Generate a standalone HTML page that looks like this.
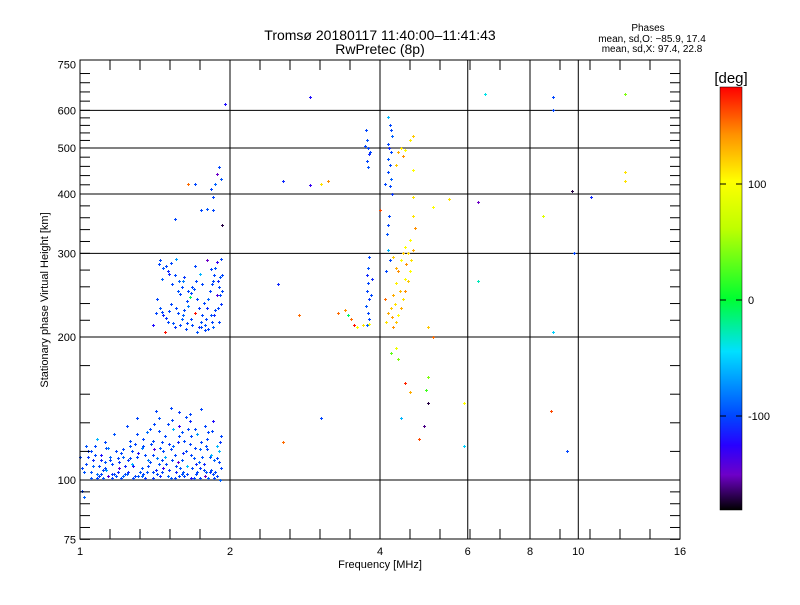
<!DOCTYPE html>
<html><head><meta charset="utf-8"><style>
body{margin:0;background:#fff}
svg text{font-family:"Liberation Sans",sans-serif;fill:#000}
</style></head><body>
<svg id="c" width="800" height="600" viewBox="0 0 800 600">
<rect width="800" height="600" fill="#fff"/>
<defs><linearGradient id="cb" x1="0" y1="1" x2="0" y2="0">
<stop offset="0" stop-color="#000"/><stop offset="0.083" stop-color="#6e00c8"/><stop offset="0.153" stop-color="#2800ff"/><stop offset="0.222" stop-color="#0046ff"/><stop offset="0.375" stop-color="#00e0ff"/><stop offset="0.5" stop-color="#00ff30"/><stop offset="0.667" stop-color="#c0ff00"/><stop offset="0.778" stop-color="#ffff00"/><stop offset="0.889" stop-color="#ff9000"/><stop offset="1" stop-color="#ff0000"/>
</linearGradient></defs>
<text x="380" y="40" font-size="14" text-anchor="middle">Tromsø 20180117 11:40:00–11:41:43</text>
<text x="380" y="54" font-size="14" text-anchor="middle">RwPretec (8p)</text>
<g font-size="10" text-anchor="middle">
<text x="648" y="31">Phases</text>
<text x="652" y="42">mean, sd,O: −85.9, 17.4</text>
<text x="652" y="52">mean, sd,X:  97.4, 22.8</text>
</g>
<g id="grid"></g>
<g id="pts"></g>
<rect x="80" y="60" width="600" height="479" fill="none" stroke="#000" stroke-width="1"/>
<g id="ticks"></g>
<text x="380" y="568" font-size="11" text-anchor="middle">Frequency [MHz]</text>
<text transform="translate(48,300) rotate(-90)" font-size="11" text-anchor="middle">Stationary phase Virtual Height [km]</text>
<rect x="720" y="87" width="22" height="423" fill="url(#cb)" stroke="#000" stroke-width="0.5"/>
<text x="731" y="83" font-size="15" text-anchor="middle">[deg]</text>
<g id="cbt"></g>
</svg>
<script>
const xTicks=[1,2,4,6,8,10,16];
const yTicks=[75,100,200,300,400,500,600,750];
const cbTicks=[100,0,-100];
const freqs=[1.01,1.02,1.03,1.04,1.05,1.06,1.07,1.08,1.09,1.1,1.11,1.12,1.13,1.15,1.16,1.17,1.18,1.2,1.21,1.22,1.24,1.25,1.26,1.27,1.29,1.3,1.31,1.33,1.34,1.35,1.37,1.38,1.4,1.41,1.42,1.44,1.45,1.46,1.48,1.5,1.51,1.52,1.54,1.55,1.57,1.58,1.6,1.61,1.63,1.64,1.66,1.67,1.69,1.7,1.72,1.74,1.75,1.77,1.78,1.8,1.82,1.83,1.85,1.86,1.88,1.9,1.91,1.92,1.05,1.12,1.19,1.26,1.33,1.4,1.47,1.53,1.6,1.67,1.74,1.81,1.88,1.14,1.23,1.36,1.43,1.56,1.62,1.71,1.79,1.85,1.08,1.44,1.58,1.66,1.3,
1.45,1.47,1.5,1.52,1.55,1.58,1.6,1.62,1.56,1.65,1.43,1.45,1.47,1.5,1.52,1.55,1.57,1.6,1.63,1.65,1.68,1.7,1.72,1.75,1.78,1.8,1.82,1.85,1.87,1.88,1.9,1.92,1.9,1.85,1.76,1.74,1.7,1.8,1.92,1.93,1.4,1.42,1.66,1.68,1.83,1.77,1.48,1.62,1.73,1.87,
1.75,1.8,1.85,1.83,1.87,1.88,1.9,1.92,1.85,1.7,1.55,1.65,1.93,1.95,2.55,2.9,2.9,3.05,3.15,2.5,2.75,
3.75,3.77,3.78,3.8,3.76,3.79,3.74,3.82,3.8,3.78,3.76,3.79,3.77,3.81,3.75,3.78,3.8,3.77,3.83,3.85,3.6,3.55,3.5,3.7,3.8,3.4,3.45,3.3,
4.15,4.18,4.2,4.22,4.15,4.17,4.2,4.16,4.19,4.15,4.2,4.18,4.22,4.1,4.16,4.13,4.15,4.18,4.12,4.17,
4.25,4.3,4.35,4.4,4.45,4.5,4.55,4.6,4.62,4.65,4.6,4.7,4.65,4.2,4.25,4.3,4.35,4.4,4.45,4.22,4.28,4.38,4.48,4.52,4.55,4.3,4.25,4.5,4.1,4.15,4.12,
4.4,4.45,4.5,4.6,4.65,4.35,4.0,4.65,4.3,4.65,
4.2,4.3,4.35,4.5,4.6,4.95,5.0,5.0,5.1,5.0,4.9,4.8,4.4,3.05,2.55,
6.5,8.9,8.9,9.7,10.6,12.4,12.4,12.4,6.3,8.5,9.8,8.9,6.3,8.8,9.5,5.9,5.9,5.5,5.1];
const heights=[95,92,108,112,104,110,118,103,107,113,101,120,105,110,103,125,115,106,101,112,130,104,118,108,102,135,114,106,122,101,110,128,104,116,140,108,102,120,112,131,105,142,118,101,109,124,103,114,136,107,119,101,111,128,104,116,141,108,102,122,112,105,133,101,118,109,100,124,115,109,104,111,117,121,106,110,126,113,106,101,111,102,103,104,103,104,102,103,104,103,122,127,130,138,125,
290,280,275,286,270,262,255,268,292,250,240,230,222,215,235,210,225,218,208,232,212,225,240,215,207,230,250,262,280,245,255,235,215,210,258,272,282,290,292,270,212,225,243,255,222,236,205,228,210,228,
370,372,370,410,420,440,455,430,395,420,355,420,345,620,425,640,418,420,425,258,222,
545,520,500,485,470,455,505,490,295,280,270,260,250,240,232,225,218,212,245,265,210,212,218,212,213,228,222,225,
580,560,545,530,510,500,490,475,460,445,430,415,400,420,345,330,305,290,275,360,
210,215,222,230,240,250,262,275,290,305,320,340,360,230,245,260,275,290,300,220,235,250,265,285,300,280,295,310,240,225,215,
500,480,495,520,530,490,370,395,460,450,
185,190,180,160,153,155,165,145,200,210,130,122,135,135,120,
650,640,600,405,395,650,445,425,385,360,300,205,262,140,115,118,145,390,375];
const phases=[-100,-90,-100,-105,-95,-110,-100,-85,-100,-120,-95,-100,-70,-100,-105,-95,-100,-140,-100,-90,-100,-110,-95,-60,-100,-100,-120,-95,-100,-105,-80,-100,-100,-140,-100,-95,-110,-100,-65,-100,-105,-100,-90,-100,-145,-100,-95,-110,-100,-55,-100,-120,-95,-100,-100,-90,-100,-110,-150,-100,-95,-100,-120,-100,-60,-100,-90,-100,-100,-95,-110,-100,-80,-100,-130,-100,-95,-100,-105,-90,-100,-140,-100,-95,-100,-110,-100,-100,-95,-100,-60,-100,-130,-100,-100,
-100,-95,-110,-100,-100,-90,-100,-105,-70,-100,-100,-95,-110,-100,-100,-105,-100,-90,-100,-80,-100,175,-100,-95,-100,-110,-100,-100,-95,-140,-100,-105,-100,-90,-100,-60,-100,-150,-100,-100,-120,-100,-10,-100,-95,-100,175,-100,-110,-100,
-100,-95,-100,-100,-90,-150,-100,-95,-100,-100,-100,150,-170,-120,-110,-120,-130,110,140,-110,150,
-100,-95,-100,-110,-100,-95,-100,-100,-100,-95,-110,-100,-100,-105,-95,-100,-100,-90,-100,-110,100,175,150,110,100,140,-10,150,
-60,-100,-100,-90,-100,-110,-100,-95,-100,-100,-90,-100,-105,-100,-100,-95,-60,-100,-100,-100,
140,120,100,130,110,140,120,100,110,130,100,140,110,120,130,105,140,100,120,135,110,125,100,140,115,130,120,100,150,130,110,
110,140,100,105,120,130,160,110,120,100,
30,90,40,170,130,20,40,-170,150,120,-160,160,-60,-100,150,
-40,-100,-100,-170,-110,40,110,110,-150,80,-100,-50,-30,160,-100,-50,100,110,100];
const extraFreqs=[1.00,1.02,1.04,1.06,1.08,1.10,1.12,1.14,1.16,1.18,
1.20,1.22,1.24,1.26,1.28,1.30,1.32,1.34,1.36,1.38,
1.40,1.42,1.44,1.46,1.48,1.50,1.52,1.54,1.56,1.58,
1.60,1.62,1.64,1.66,1.68,1.70,1.72,1.74,1.76,1.78,
1.80,1.82,1.84,1.86,1.88,1.90,1.92,1.01,1.03,1.07,
1.11,1.15,1.19,1.23,1.27,1.31,1.35,1.39,1.43,1.47,
1.51,1.55,1.59,1.63,1.67,1.71,1.75,1.79,1.83,1.87,
1.09,1.13,1.17,1.21,1.25,1.29,1.33,1.37,1.41,1.45,
1.49,1.53,1.57,1.61,1.65,1.69,1.73,1.77,1.81,1.91,
1.05,1.1,1.16,1.22,1.28,1.34,1.4,1.46,1.52,1.58,
1.44,1.46,1.49,1.51,1.53,1.57,1.59,1.61,1.64,1.67,
1.69,1.71,1.73,1.76,1.79,1.81,1.84,1.86,1.89,1.91,
1.46,1.49,1.51,1.54,1.56,1.59,1.61,1.64,1.67,1.72,
1.75,1.78,1.81,1.84,1.86,1.89,1.91,1.93,1.88,1.83];
const extraHeights=[112,104,115,107,101,110,106,117,108,102,
109,116,103,121,107,112,104,118,126,109,
113,105,135,110,124,102,116,128,107,139,
110,121,103,133,106,117,125,101,112,130,
116,104,127,110,102,115,106,106,118,113,
105,112,111,107,115,102,113,119,111,115,
119,113,106,115,124,108,120,118,113,104,
102,117,103,114,110,119,102,107,131,117,
108,134,120,104,128,101,109,105,126,120,
101,103,101,102,101,103,101,104,101,102,
285,265,282,272,258,250,246,263,238,247,
252,262,230,222,218,240,258,270,262,245,
226,219,227,214,230,212,222,214,218,205,
210,212,208,215,222,230,268,250,288,278];
const extraPhases=[-100,-95,-105,-90,-100,-110,-100,-80,-100,-95,
-105,-100,-90,-100,-120,-100,-95,-100,-85,-100,
-100,-110,-95,-100,-100,-90,-100,-60,-100,-105,
-95,-100,-100,-110,-100,-100,-70,-100,-95,-100,
-100,-105,-100,-90,-100,-60,-100,-100,-95,-100,
-100,-90,-100,-110,-100,-95,-100,-100,-80,-100,
-105,-100,-95,-100,-100,-110,-100,-95,-60,-100,
-100,-95,-100,-100,-105,-100,-90,-100,-100,-95,
-100,-100,-110,-95,-100,-100,-90,-100,-100,-105,
-95,-100,-100,-90,-100,-100,-105,-100,-95,-100,
-100,-90,-100,-110,-100,-95,-100,-80,-100,-100,
-95,-100,-105,-100,-100,-90,-100,-100,-110,-100,
-100,-105,-100,-95,-100,-100,-90,-100,-100,-95,
-100,-95,-100,-100,-110,-100,-95,-100,-130,-100];

const xs=f=>80+150*Math.log2(f);
const ys=h=>480-143*Math.log2(h/100);
const cbY=p=>300-1.16*p;
const stops=[[-180,[0,0,0]],[-150,[110,0,200]],[-125,[40,0,255]],[-100,[0,70,255]],[-45,[0,224,255]],[0,[0,255,48]],[60,[192,255,0]],[100,[255,255,0]],[140,[255,144,0]],[180,[255,0,0]]];
function col(p){p=Math.max(-180,Math.min(180,p));for(let i=1;i<stops.length;i++){if(p<=stops[i][0]){const a=stops[i-1],b=stops[i],t=(p-a[0])/(b[0]-a[0]);const c=a[1].map((v,k)=>Math.round(v+(b[1][k]-v)*t));return `rgb(${c})`;}}return 'rgb(255,0,0)';}
const NS='http://www.w3.org/2000/svg';
function mk(tag,attrs,parent){const e=document.createElementNS(NS,tag);for(const k in attrs)e.setAttribute(k,attrs[k]);parent.appendChild(e);return e;}
const grid=document.getElementById('grid'),ticks=document.getElementById('ticks'),pts=document.getElementById('pts'),cbt=document.getElementById('cbt');
[2,4,6,8,10].forEach(v=>{const l=mk('line',{x1:xs(v),x2:xs(v),y1:60,y2:539,stroke:'#000','stroke-width':1},grid);

});
[100,200,300,400,500,600].forEach(v=>{const l=mk('line',{x1:80,x2:680,y1:ys(v),y2:ys(v),stroke:'#000','stroke-width':1},grid);

});
for(let x=80;x<=680;x+=30){mk('line',{x1:x,x2:x,y1:539,y2:529,stroke:'#000'},ticks);mk('line',{x1:x,x2:x,y1:60,y2:70,stroke:'#000'},ticks);}
for(let i=0;i<yTicks.length-1;i++){const a=ys(yTicks[i]),b=ys(yTicks[i+1]);for(let k=0;k<5;k++){const y=a+(b-a)*k/5;mk('line',{x1:80,x2:90,y1:y,y2:y,stroke:'#000'},ticks);mk('line',{x1:680,x2:670,y1:y,y2:y,stroke:'#000'},ticks);}}
xTicks.forEach(v=>{const t=mk('text',{x:xs(v),y:555,'font-size':11,'text-anchor':'middle'},ticks);t.textContent=v;

});
yTicks.forEach(v=>{const t=mk('text',{x:76,y:ys(v)+4,'font-size':11,'text-anchor':'end'},ticks);t.textContent=v;

});
cbTicks.forEach(v=>{const y=cbY(v);mk('line',{x1:720,x2:726,y1:y,y2:y,stroke:'#000'},cbt);mk('line',{x1:742,x2:736,y1:y,y2:y,stroke:'#000'},cbt);
const t=mk('text',{x:748,y:y+4,'font-size':11},cbt);t.textContent=v;

});
function drawPoint(f,h,p){const x=Math.round(xs(f)),y=Math.round(ys(h)),c=col(p);
const g=mk('g',{fill:c},pts);


mk('rect',{x:x-1,y:y,width:3,height:1},g);mk('rect',{x:x,y:y-1,width:1,height:3},g);}
for(let i=0;i<freqs.length;i++)drawPoint(freqs[i],heights[i],phases[i]);
for(let i=0;i<extraFreqs.length;i++)drawPoint(extraFreqs[i],extraHeights[i],extraPhases[i]);
</script>
</body></html>
